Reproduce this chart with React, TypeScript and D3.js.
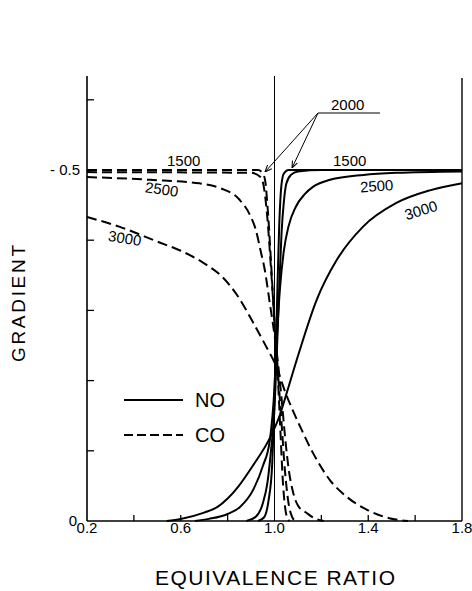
import React from "react";
import * as d3 from "d3";

type P = [number, number];

// equivalence ratio, gradient
const NO_1500: P[] = [[0.93,0],[0.955,-0.005],[0.975,-0.03],[0.99,-0.08],[1.0,-0.18],[1.01,-0.3],[1.02,-0.42],[1.03,-0.48],[1.04,-0.495],[1.06,-0.5],[1.8,-0.5]];
const NO_2000: P[] = [[0.88,0],[0.92,-0.006],[0.95,-0.025],[0.97,-0.055],[0.985,-0.1],[1.0,-0.16],[1.01,-0.24],[1.02,-0.33],[1.03,-0.41],[1.04,-0.455],[1.05,-0.48],[1.07,-0.493],[1.1,-0.498],[1.2,-0.5],[1.8,-0.5]];
const NO_2500: P[] = [[0.66,0],[0.72,-0.003],[0.8,-0.01],[0.853,-0.02],[0.91,-0.045],[0.95,-0.078],[0.98,-0.115],[1.0,-0.19],[1.01,-0.26],[1.023,-0.33],[1.04,-0.385],[1.06,-0.42],[1.09,-0.447],[1.13,-0.466],[1.164,-0.476],[1.237,-0.486],[1.38,-0.493],[1.52,-0.496],[1.8,-0.498]];
const NO_3000: P[] = [[0.54,0],[0.6,-0.003],[0.7,-0.012],[0.757,-0.02],[0.8,-0.032],[0.843,-0.048],[0.91,-0.08],[0.98,-0.118],[1.023,-0.151],[1.05,-0.18],[1.1,-0.235],[1.18,-0.315],[1.266,-0.372],[1.377,-0.419],[1.52,-0.453],[1.663,-0.471],[1.8,-0.481]];

const CO_1500: P[] = [[0.2,-0.5],[0.93,-0.5],[0.95,-0.495],[0.96,-0.485],[0.972,-0.44],[0.985,-0.37],[1.0,-0.28],[1.015,-0.2],[1.025,-0.13],[1.035,-0.06],[1.045,-0.02],[1.055,-0.004],[1.065,0]];
const CO_2000: P[] = [[0.2,-0.497],[0.9,-0.496],[0.94,-0.49],[0.955,-0.475],[0.97,-0.43],[0.985,-0.36],[1.0,-0.285],[1.015,-0.21],[1.03,-0.14],[1.045,-0.07],[1.06,-0.025],[1.075,-0.006],[1.09,0]];
const CO_2500: P[] = [[0.2,-0.49],[0.47,-0.486],[0.68,-0.481],[0.77,-0.474],[0.85,-0.458],[0.895,-0.436],[0.92,-0.415],[0.94,-0.386],[0.96,-0.355],[0.98,-0.31],[1.0,-0.265],[1.015,-0.225],[1.03,-0.175],[1.045,-0.12],[1.06,-0.075],[1.08,-0.04],[1.1,-0.022],[1.139,-0.011],[1.17,-0.004],[1.21,0]];
const CO_3000: P[] = [[0.2,-0.433],[0.34,-0.419],[0.5,-0.398],[0.6,-0.385],[0.7,-0.367],[0.77,-0.35],[0.84,-0.322],[0.91,-0.282],[0.97,-0.245],[1.0,-0.226],[1.05,-0.18],[1.11,-0.134],[1.164,-0.097],[1.237,-0.058],[1.31,-0.034],[1.395,-0.016],[1.49,-0.004],[1.57,0]];

const X_TICKS = [0.4, 0.6, 0.8, 1.2, 1.4, 1.6];
const X_LABELS = [0.2, 0.6, 1.0, 1.4, 1.8];
const Y_TICKS = [-0.1, -0.2, -0.3, -0.4, -0.5, -0.6];
const Y_LABELS = [0, -0.5];

const FONT = "'Liberation Sans', Arial, sans-serif";

export default function App() {
  const x = d3.scaleLinear().domain([0.2, 1.8]).range([87, 462]);
  const y = d3.scaleLinear().domain([0, -0.5]).range([521, 170]);
  const line = d3
    .line<P>()
    .x((d) => x(d[0]))
    .y((d) => y(d[1]))
    .curve(d3.curveMonotoneX);

  const noSeries = [NO_1500, NO_2000, NO_2500, NO_3000];
  const coSeries = [CO_1500, CO_2000, CO_2500, CO_3000];
  const yTop = y(-0.634);
  const x0 = x(0.2), x1 = x(1.8), yb = y(0);

  return (
    <svg width={472} height={591} style={{ display: "block", position: "absolute", left: 0, top: 0 }}>
      <rect width={472} height={591} fill="#fff" />
      <defs>
        <marker id="ah" viewBox="0 0 10 10" refX="10" refY="5" markerWidth="7" markerHeight="7" orient="auto">
          <path d="M0,1 L10,5 L0,9" fill="none" stroke="#000" strokeWidth={1.5} />
        </marker>
      </defs>
      {/* axes */}
      <line x1={x0} x2={x0} y1={yTop} y2={yb} stroke="#000" strokeWidth={1.6} />
      <line x1={x0} x2={x1} y1={yb} y2={yb} stroke="#000" strokeWidth={1.6} />
      <line x1={x1} x2={x1} y1={y(-0.631)} y2={yb} stroke="#000" strokeWidth={1.4} />
      <line x1={x(1.0)} x2={x(1.0)} y1={yTop} y2={yb} stroke="#000" strokeWidth={1} />
      {Y_TICKS.map((t) => (
        <line key={t} x1={x0} x2={x0 + 7} y1={y(t)} y2={y(t)} stroke="#000" strokeWidth={1.3} />
      ))}
      {X_TICKS.map((t) => (
        <line key={t} x1={x(t)} x2={x(t)} y1={yb} y2={yb - 6} stroke="#000" strokeWidth={1.3} />
      ))}
      {X_LABELS.map((t) => (
        <text key={t} x={x(t)} y={533} fontSize={15} fontFamily={FONT} textAnchor="middle">
          {d3.format(".1f")(t)}
        </text>
      ))}
      {Y_LABELS.map((t) => (
        <text key={t} x={t === 0 ? 77 : 80} y={y(t) + 5} fontSize={15} fontFamily={FONT} textAnchor="end">
          {t === 0 ? "0" : "- " + Math.abs(t).toFixed(1)}
        </text>
      ))}
      {/* curves */}
      {noSeries.map((s, i) => (
        <path key={"no" + i} d={line(s) || ""} fill="none" stroke="#000" strokeWidth={2} />
      ))}
      {coSeries.map((s, i) => (
        <path key={"co" + i} d={line(s) || ""} fill="none" stroke="#000" strokeWidth={2} strokeDasharray="10 5" />
      ))}
      {/* curve labels left (CO) */}
      <text x={167} y={166} fontSize={15} fontFamily={FONT}>1500</text>
      <text x={145} y={195} fontSize={15} fontFamily={FONT} transform="rotate(8 165 190)">2500</text>
      <text x={108} y={244} fontSize={15} fontFamily={FONT} transform="rotate(9 128 240)">3000</text>
      {/* curve labels right (NO) */}
      <text x={333} y={166} fontSize={15} fontFamily={FONT}>1500</text>
      <text x={360} y={191} fontSize={15} fontFamily={FONT} transform="rotate(-4 380 186)">2500</text>
      <text x={403} y={215} fontSize={15} fontFamily={FONT} transform="rotate(-17 422 206)">3000</text>
      {/* 2000 label with arrows */}
      <text x={331} y={110} fontSize={15} fontFamily={FONT}>2000</text>
      <line x1={318} x2={380} y1={113} y2={113} stroke="#000" strokeWidth={1} />
      <line x1={318} y1={113} x2={265} y2={172} stroke="#000" strokeWidth={1} markerEnd="url(#ah)" />
      <line x1={318} y1={113} x2={292} y2={168} stroke="#000" strokeWidth={1} markerEnd="url(#ah)" />
      {/* legend */}
      <line x1={124} x2={183} y1={400} y2={400} stroke="#000" strokeWidth={2} />
      <text x={195} y={407} fontSize={20} fontFamily={FONT}>NO</text>
      <line x1={124} x2={183} y1={435} y2={435} stroke="#000" strokeWidth={2} strokeDasharray="9 4" />
      <text x={195} y={442} fontSize={20} fontFamily={FONT}>CO</text>
      {/* axis titles */}
      <text
        x={0}
        y={0}
        fontSize={19}
        fontFamily={FONT}
        textLength={117}
        lengthAdjust="spacing"
        transform="translate(25 362) rotate(-90)"
      >
        GRADIENT
      </text>
      <text x={155} y={585} fontSize={21} fontFamily={FONT} textLength={240} lengthAdjust="spacing">
        EQUIVALENCE RATIO
      </text>
    </svg>
  );
}
